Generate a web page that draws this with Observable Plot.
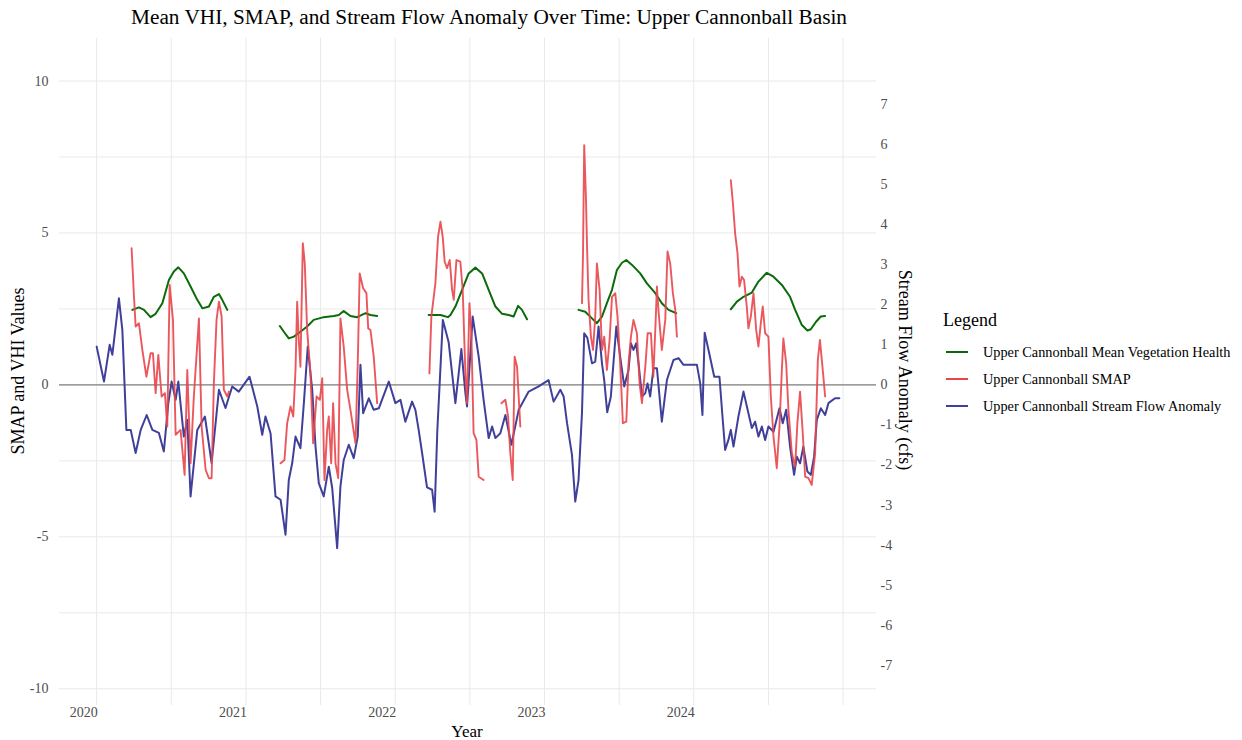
<!DOCTYPE html>
<html><head><meta charset="utf-8">
<script src="https://cdn.jsdelivr.net/npm/d3@7"></script>
<script src="https://cdn.jsdelivr.net/npm/@observablehq/plot@0.6"></script>
<style>
html,body{margin:0;padding:0;background:#fff;}
#wrap{position:relative;width:1242px;height:740px;overflow:hidden;font-family:"Liberation Serif","Times New Roman",serif;color:#000;}
.abs{position:absolute;white-space:nowrap;line-height:1;}
</style></head><body><div id="wrap"></div>
<script>
// ---------- data ----------
const titleText = "Mean VHI, SMAP, and Stream Flow Anomaly Over Time: Upper Cannonball Basin";
const xTitle = "Year";
const yLeftTitle = "SMAP and VHI Values";
const yRightTitle = "Stream Flow Anomaly (cfs)";
const legendTitle = "Legend";
const seriesNames = ["Upper Cannonball Mean Vegetation Health", "Upper Cannonball SMAP", "Upper Cannonball Stream Flow Anomaly"];
const seriesColors = ["#0b6b0b", "#e8464b", "#40409a"];

const xTickYears = [2020, 2021, 2022, 2023, 2024];
const xGridYears = [2020, 2020.5, 2021, 2021.5, 2022, 2022.5, 2023, 2023.5, 2024, 2024.5, 2025];
const yLeftTicks = [-10, -5, 0, 5, 10];
const yGrid = [-10, -7.5, -5, -2.5, 0, 2.5, 5, 7.5, 10];
const yRightTicks = [-7, -6, -5, -4, -3, -2, -1, 0, 1, 2, 3, 4, 5, 6, 7];
const flowScale = 1.318; // stream-flow units are drawn scaled onto the left axis

const flowYear = [2020.000,2020.049,2020.087,2020.105,2020.149,2020.172,2020.199,2020.228,2020.261,2020.295,
2020.335,2020.373,2020.417,2020.450,2020.480,2020.502,2020.529,2020.547,2020.584,2020.607,
2020.629,2020.674,2020.725,2020.770,2020.819,2020.863,2020.908,2020.952,2021.024,2021.076,
2021.109,2021.131,2021.165,2021.198,2021.232,2021.265,2021.287,2021.310,2021.332,2021.365,
2021.388,2021.414,2021.444,2021.466,2021.488,2021.521,2021.555,2021.578,2021.611,2021.633,
2021.655,2021.689,2021.722,2021.749,2021.767,2021.785,2021.823,2021.856,2021.890,2021.957,
2022.001,2022.035,2022.068,2022.113,2022.135,2022.157,2022.180,2022.213,2022.247,2022.264,
2022.282,2022.319,2022.358,2022.403,2022.443,2022.470,2022.481,2022.519,2022.559,2022.592,
2022.626,2022.649,2022.671,2022.704,2022.738,2022.778,2022.827,2022.894,2022.961,2023.027,
2023.061,2023.106,2023.128,2023.151,2023.184,2023.206,2023.228,2023.251,2023.266,2023.287,
2023.318,2023.340,2023.362,2023.385,2023.400,2023.420,2023.444,2023.481,2023.507,2023.534,
2023.563,2023.579,2023.596,2023.614,2023.630,2023.653,2023.675,2023.690,2023.708,2023.730,
2023.753,2023.786,2023.820,2023.864,2023.898,2023.931,2023.976,2024.021,2024.043,2024.058,
2024.073,2024.103,2024.137,2024.172,2024.190,2024.210,2024.232,2024.248,2024.266,2024.299,
2024.333,2024.366,2024.389,2024.411,2024.433,2024.456,2024.478,2024.500,2024.534,2024.574,
2024.596,2024.619,2024.645,2024.672,2024.690,2024.712,2024.734,2024.761,2024.784,2024.806,
2024.824,2024.851,2024.880,2024.902,2024.946,2024.975];
const flowValue = [1.26,0.11,1.32,0.99,2.85,1.81,-1.48,-1.48,-2.24,-1.48,
-0.99,-1.48,-1.58,-2.19,-0.6,0.11,-0.49,0.11,-1.7,-1.15,
-3.67,-1.48,-1.04,-2.57,-0.16,-0.76,-0.05,-0.22,0.27,-0.71,
-1.64,-1.04,-1.6,-3.67,-3.78,-4.93,-3.13,-2.57,-1.7,-2.08,
-0.6,1.26,-0.16,-2.03,-3.23,-3.67,-2.69,-3.4,-5.37,-3.34,
-2.47,-1.97,-2.41,-1.7,0.66,-0.93,-0.44,-0.82,-0.77,0.11,
-0.6,-0.49,-1.21,-0.55,-0.82,-1.48,-2.24,-3.37,-3.45,-4.17,
-1.5,2.14,1.4,-0.6,1.18,-0.27,-0.71,2.25,0.93,-0.49,
-1.75,-1.37,-1.75,-1.59,-0.99,-1.97,-0.82,-0.22,-0.05,0.16,
-0.55,-0.16,-0.38,-1.26,-2.3,-3.84,-3.13,-0.93,1.7,1.55,
0.71,0.77,1.92,0.71,0.16,-0.9,-0.4,1.92,0.93,-0.05,
0.49,1.37,1.15,1.37,0.71,-0.38,-0.27,0.05,-0.38,0.55,
0.55,-1.21,0.16,0.82,0.88,0.66,0.66,0.66,0.05,-0.99,
1.72,1.05,0.27,0.27,-0.9,-2.14,-1.81,-1.48,-2.03,-1.04,
-0.22,-0.93,-1.42,-1.21,-1.7,-1.37,-1.81,-1.37,-1.54,-0.77,
-1.26,-0.82,-2.03,-2.96,-2.36,-2.58,-2.03,-2.85,-2.96,-2.36,
-1.15,-0.77,-0.99,-0.6,-0.44,-0.44];

// SMAP: seasonal segments, null = no observation (gap)
const smapYear = [2020.234,2020.250,2020.261,2020.283,2020.306,2020.333,2020.361,2020.377,2020.395,2020.413,
2020.435,2020.457,2020.473,2020.489,2020.511,2020.529,2020.562,2020.589,2020.607,2020.629,
2020.651,2020.685,2020.703,2020.730,2020.752,2020.770,2020.785,2020.803,2020.819,2020.837,
2020.852,2020.875,2020.886,
2021.000,
2021.232,2021.258,2021.276,2021.299,2021.317,2021.332,2021.343,2021.354,2021.365,2021.381,
2021.394,2021.410,2021.432,2021.450,2021.473,2021.495,2021.511,2021.526,2021.544,2021.555,
2021.571,2021.584,2021.600,2021.618,2021.633,2021.655,2021.678,2021.700,2021.734,2021.749,
2021.762,2021.785,2021.807,2021.819,2021.834,2021.856,2021.879,
2022.000,
2022.229,2022.242,2022.269,2022.287,2022.303,2022.318,2022.331,2022.347,2022.365,2022.381,
2022.392,2022.410,2022.436,2022.452,2022.470,2022.481,2022.497,2022.510,2022.525,2022.544,
2022.559,2022.592,
2022.650,
2022.711,2022.738,2022.756,2022.771,2022.787,2022.800,2022.816,2022.838,
2023.000,
2023.251,2023.258,2023.262,2023.266,2023.278,2023.285,2023.295,2023.311,2023.325,2023.340,
2023.351,2023.369,2023.385,2023.400,2023.418,2023.436,2023.452,2023.474,2023.489,2023.507,
2023.525,2023.548,2023.563,2023.579,2023.596,2023.619,2023.637,2023.653,2023.677,2023.691,
2023.713,2023.729,2023.744,2023.753,2023.764,2023.786,2023.809,2023.824,2023.842,2023.860,
2023.876,2023.887,
2024.000,
2024.248,2024.262,2024.277,2024.293,2024.306,2024.322,2024.337,2024.355,2024.366,2024.382,
2024.400,2024.418,2024.433,2024.449,2024.462,2024.478,2024.500,2024.516,2024.534,2024.556,
2024.574,2024.590,2024.600,2024.619,2024.634,2024.657,2024.679,2024.694,2024.712,2024.730,
2024.746,2024.768,2024.790,2024.813,2024.831,2024.845,2024.864,2024.880];
const smapValue = [4.5,2.9,1.92,2.03,1.15,0.27,1.04,1.04,-0.27,0.99,
-0.38,-0.27,-1.37,3.29,2.14,-1.64,-1.48,-2.96,0.49,-2.58,
-0.38,2.19,-1.37,-2.8,-3.07,-3.07,0.05,2.14,2.74,2.25,
-0.16,-0.38,-0.22,
null,
-2.58,-2.47,-1.26,-0.71,-1.04,0.49,2.74,1.48,0.6,4.66,
4.0,1.81,0.38,-1.92,-0.38,-0.49,0.22,-3.13,-1.48,-1.04,
-2.58,-0.6,-2.58,-3.07,2.19,1.26,-0.16,-0.82,-1.92,0.71,
3.67,3.18,3.02,1.86,1.81,0.93,-0.6,
null,
0.38,2.25,3.34,4.88,5.37,4.88,4.06,3.84,4.11,3.13,
2.8,4.11,4.06,3.13,0.38,-0.6,2.69,1.7,-1.59,-1.81,
-3.02,-3.13,
null,
-0.6,-0.49,-1.04,-2.25,-3.13,0.93,0.6,-1.37,
null,
2.69,4.33,6.19,7.89,6.09,4.55,2.8,1.59,1.15,2.25,
4.0,3.13,1.15,1.59,0.49,1.48,2.9,3.02,2.25,0.71,
-1.26,-1.21,0.71,1.59,2.14,1.7,0.05,-0.6,0.71,1.7,
1.7,0.27,2.03,3.24,2.41,1.15,2.14,4.39,4.0,3.02,
2.47,1.59,
null,
6.74,5.98,4.99,4.33,3.24,3.56,3.45,2.58,1.86,2.25,
3.02,1.81,1.26,2.03,2.58,1.7,1.59,-0.38,-1.7,-2.74,
-1.37,0.49,1.53,0.71,-0.82,-2.25,-2.69,-1.26,-0.22,-1.59,
-3.02,-3.07,-3.29,-2.25,0.82,1.48,0.49,-0.38];

// Mean VHI: seasonal segments, null = gap
const vhiYear = [2020.239,2020.283,2020.317,2020.361,2020.395,2020.440,2020.484,2020.517,2020.547,2020.584,
2020.629,2020.674,2020.708,2020.752,2020.785,2020.819,2020.841,2020.875,
2021.000,
2021.227,2021.254,2021.287,2021.321,2021.365,2021.410,2021.454,2021.521,2021.588,2021.622,
2021.655,2021.700,2021.745,2021.801,2021.834,2021.879,
2022.000,
2022.224,2022.269,2022.303,2022.353,2022.370,2022.403,2022.448,2022.492,2022.537,2022.582,
2022.626,2022.671,2022.716,2022.760,2022.793,2022.823,2022.849,2022.883,
2023.000,
2023.228,2023.273,2023.318,2023.351,2023.385,2023.418,2023.452,2023.485,2023.519,2023.548,
2023.586,2023.641,2023.686,2023.742,2023.786,2023.831,2023.882,
2024.000,
2024.248,2024.289,2024.333,2024.389,2024.433,2024.489,2024.534,2024.590,2024.645,2024.679,
2024.724,2024.761,2024.784,2024.819,2024.851,2024.880];
const vhiValue = [2.47,2.55,2.47,2.23,2.34,2.69,3.45,3.73,3.87,3.67,
3.24,2.8,2.52,2.58,2.9,2.99,2.8,2.47,
null,
1.94,1.75,1.53,1.59,1.75,1.92,2.14,2.23,2.27,2.3,
2.43,2.27,2.23,2.36,2.3,2.27,
null,
2.3,2.3,2.3,2.23,2.3,2.58,3.13,3.67,3.86,3.67,
3.13,2.58,2.34,2.3,2.25,2.6,2.47,2.16,
null,
2.47,2.41,2.19,2.03,2.25,2.69,3.13,3.78,4.02,4.11,
3.95,3.67,3.34,3.02,2.69,2.47,2.36,
null,
2.49,2.74,2.9,3.04,3.4,3.69,3.56,3.29,2.9,2.47,
1.97,1.79,1.83,2.08,2.25,2.27];

// ---------- build tables ----------
const toRows = (xs, ys) => xs.map((x, i) => ({year: x, value: ys[i]}));
const flow = toRows(flowYear, flowValue);
const smap = toRows(smapYear, smapValue);
const vhi = toRows(vhiYear, vhiValue);
const fmt = d => String(d).replace("\u2212", "-");

const W = 1242, H = 740;
const axisColor = "#4d4d4d";
const plot = Plot.plot({
  width: W, height: H,
  marginLeft: 59, marginRight: 366, marginTop: 38, marginBottom: 35,
  style: {fontFamily: '"Liberation Serif","Times New Roman",serif', background: "transparent", overflow: "visible"},
  x: {type: "linear", domain: [2019.751, 2025.224]},
  y: {type: "linear", domain: [-10.55, 11.4]},
  marks: [
    Plot.gridX(xGridYears, {stroke: "#e9e9e9", strokeOpacity: 1, strokeWidth: 1}),
    Plot.gridY(yGrid, {stroke: "#e9e9e9", strokeOpacity: 1, strokeWidth: 1}),
    Plot.ruleY([0], {stroke: "#808080", strokeWidth: 1.1}),
    Plot.line(flow, {x: "year", y: "value", stroke: seriesColors[2], strokeWidth: 2, strokeLinejoin: "round"}),
    Plot.line(vhi, {x: "year", y: "value", stroke: seriesColors[0], strokeWidth: 2, strokeLinejoin: "round"}),
    Plot.line(smap, {x: "year", y: "value", stroke: seriesColors[1], strokeWidth: 1.9, strokeOpacity: 0.9, strokeLinejoin: "round"}),
    Plot.axisX(xTickYears, {anchor: "bottom", tickSize: 0, tickPadding: 2, textAnchor: "end", dx: 1,
      tickFormat: d => String(d), fontSize: 14, fill: axisColor, label: null}),
    Plot.axisY(yLeftTicks, {anchor: "left", tickSize: 0, tickPadding: 11, tickFormat: fmt,
      fontSize: 14, fill: axisColor, label: null}),
    Plot.axisY(yRightTicks.map(t => t * flowScale), {anchor: "right", tickSize: 0, tickPadding: 4,
      tickFormat: d => fmt(Math.round(d / flowScale)), fontSize: 14, fill: axisColor, label: null})
  ]
});
plot.style.position = "absolute";
plot.style.left = "0px";
plot.style.top = "0px";
const wrap = document.getElementById("wrap");
wrap.append(plot);

function addText(txt, x, y, size, extra = {}) {
  const d = document.createElement("div");
  d.className = "abs";
  d.textContent = txt;
  d.style.fontSize = size + "px";
  d.style.left = x + "px";
  d.style.top = y + "px";
  d.style.transform = extra.transform || "translate(-50%,-50%)";
  if (extra.color) d.style.color = extra.color;
  wrap.append(d);
  return d;
}
addText(titleText, 489, 18, 21.3);
addText(xTitle, 467, 731, 17);
addText(yLeftTitle, 18, 371, 18, {transform: "translate(-50%,-50%) rotate(-90deg)"});
addText(yRightTitle, 905, 370, 18, {transform: "translate(-50%,-50%) rotate(90deg)"});
addText(legendTitle, 943, 320, 18, {transform: "translate(0,-50%)"});
const legendY = [352, 379, 406];
seriesNames.forEach((name, i) => {
  const sw = document.createElement("div");
  sw.className = "abs";
  sw.style.left = "946px";
  sw.style.top = (legendY[i] - 1) + "px";
  sw.style.width = "22px";
  sw.style.height = "2px";
  sw.style.background = seriesColors[i];
  wrap.append(sw);
  addText(name, 983, legendY[i], 14.3, {transform: "translate(0,-50%)"});
});
</script></body></html>
